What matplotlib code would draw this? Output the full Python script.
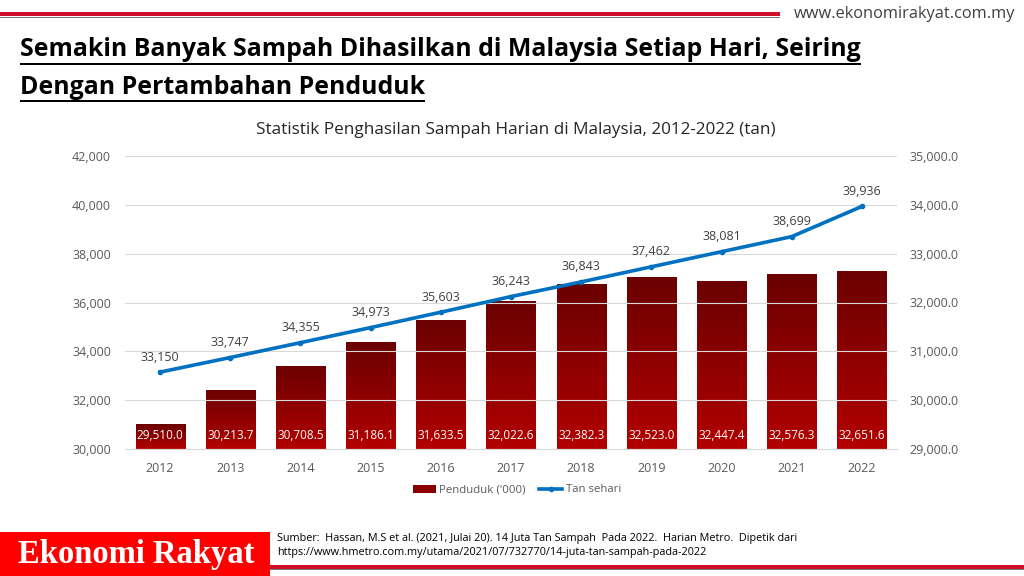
import matplotlib
matplotlib.use("Agg")
import matplotlib.pyplot as plt
import numpy as np
from matplotlib.colors import LinearSegmentedColormap
from matplotlib.patches import Rectangle, Patch
from matplotlib.lines import Line2D

years = ["2012", "2013", "2014", "2015", "2016", "2017", "2018", "2019", "2020", "2021", "2022"]
penduduk = [29510.0, 30213.7, 30708.5, 31186.1, 31633.5, 32022.6, 32382.3, 32523.0, 32447.4, 32576.3, 32651.6]
tan_sehari = [33150, 33747, 34355, 34973, 35603, 36243, 36843, 37462, 38081, 38699, 39936]
left_ticks = [30000, 32000, 34000, 36000, 38000, 40000, 42000]
right_ticks = [29000, 30000, 31000, 32000, 33000, 34000, 35000]

W, H = 1024, 576
fig = plt.figure(figsize=(W / 100, H / 100), dpi=100)
fig.patch.set_facecolor("white")

NARROW = ["Liberation Sans Narrow", "Open Sans", "DejaVu Sans"]
BODY = ["Open Sans", "DejaVu Sans"]
GRAY = "#595959"

def px(x, y):
    return x / W, 1 - y / H

# top red bar and url
fig.add_artist(Rectangle(px(0, 16), 780 / W, 4 / H, transform=fig.transFigure, color="#d0102a", lw=0))
fig.add_artist(Rectangle(px(0, 18), 780 / W, 1 / H, transform=fig.transFigure, color="#7a7a7a", lw=0))
fig.text(*px(1015, 14), "www.ekonomirakyat.com.my", ha="right", va="center", fontsize=11.8,
         family=NARROW, color="#404040")

# title
t1 = fig.text(*px(20, 50), "Semakin Banyak Sampah Dihasilkan di Malaysia Setiap Hari, Seiring",
              ha="left", va="center", fontsize=17.9, fontweight="bold", family=NARROW, color="black")
t2 = fig.text(*px(20, 87), "Dengan Pertambahan Penduduk",
              ha="left", va="center", fontsize=17.9, fontweight="bold", family=NARROW, color="black")

# axes
x0, x1, y0, y1 = 125, 897, 156, 449
ax = fig.add_axes([x0 / W, 1 - y1 / H, (x1 - x0) / W, (y1 - y0) / H])
ax2 = ax.twinx()

xs = np.arange(len(years))
cmap = LinearSegmentedColormap.from_list("g", ["#b30000", "#6a0000"])
grad = np.linspace(0, 1, 256).reshape(-1, 1)
bars = ax.bar(xs, penduduk, width=0.7, color="#a00000", edgecolor="none", zorder=2)
for b in bars:
    bx, by = b.get_x(), b.get_y()
    bw, bh = b.get_width(), b.get_height()
    im = ax.imshow(grad, cmap=cmap, aspect="auto", origin="lower",
                   extent=[bx, bx + bw, 29000, by + bh], zorder=2)
    im.set_clip_path(b)
ax.set_ylim(29000, 35000)
ax.set_xlim(-0.5, len(years) - 0.5)
ax.set_yticks(right_ticks)
ax.set_yticklabels([f"{v:,.1f}" for v in right_ticks])
ax.yaxis.tick_right()
ax.set_xticks(xs)
ax.set_xticklabels(years)
for v, x in zip(penduduk, xs):
    ax.annotate(f"{v:,.1f}", xy=(x, 29000), xytext=(0, 13), textcoords="offset pixels",
                ha="center", va="center", color="white", fontsize=8.5, family=BODY, zorder=5)

ax2.plot(xs, tan_sehari, color="#0070c0", lw=2.6, marker="o", ms=3, zorder=4)
ax2.set_ylim(30000, 42000)
ax2.set_yticks(left_ticks)
ax2.set_yticklabels([f"{v:,}" for v in left_ticks])
ax2.yaxis.tick_left()
ax2.grid(axis="y", color="#d9d9d9", lw=0.8)
for v, x in zip(tan_sehari, xs):
    ax2.annotate(f"{v:,}", xy=(x, v), xytext=(0, 15), textcoords="offset pixels",
                 ha="center", va="center", color="#404040", fontsize=9, family=BODY)

for a in (ax, ax2):
    for s in a.spines.values():
        s.set_visible(False)
    a.tick_params(length=0, labelsize=9, labelcolor=GRAY)
    for lab in a.get_xticklabels() + a.get_yticklabels():
        lab.set_family(BODY)
ax.spines["bottom"].set_visible(True)
ax.spines["bottom"].set_color("#d9d9d9")
ax.tick_params(axis="x", pad=9)
ax.tick_params(axis="y", pad=9)
ax2.tick_params(axis="y", pad=10)

ax.set_zorder(1)
ax2.set_zorder(2)
ax2.patch.set_visible(False)

fig.text(*px(516, 130), "Statistik Penghasilan Sampah Harian di Malaysia, 2012-2022 (tan)",
         ha="center", va="center", fontsize=12.3, family=BODY, color="#262626")

# legend
handles = [Patch(facecolor="#8a0000", edgecolor="none"),
           Line2D([], [], color="#0070c0", lw=2.6, marker="o", ms=3)]
leg = fig.legend(handles, ["Penduduk ('000)", "Tan sehari"], loc="center",
                 bbox_to_anchor=px(517, 490), ncol=2, frameon=False,
                 handlelength=2.0, handletextpad=0.3, columnspacing=1.2,
                 prop={"family": BODY, "size": 8.2})
for t in leg.get_texts():
    t.set_color(GRAY)

# bottom banner
fig.add_artist(Rectangle(px(0, 576), 270 / W, 44 / H, transform=fig.transFigure, color="#ff0000", lw=0))
fig.text(*px(136, 554), "Ekonomi Rakyat", ha="center", va="center", fontsize=23.5, fontweight="bold",
         family=["Liberation Serif", "DejaVu Serif"], color="white")
fig.add_artist(Rectangle(px(270, 569), 754 / W, 4 / H, transform=fig.transFigure, color="#d0102a", lw=0))
fig.add_artist(Rectangle(px(270, 570), 754 / W, 1 / H, transform=fig.transFigure, color="#7a7a7a", lw=0))
fig.text(*px(277, 539), "Sumber:  Hassan, M.S et al. (2021, Julai 20). 14 Juta Tan Sampah  Pada 2022.  Harian Metro.  Dipetik dari",
         ha="left", va="center", fontsize=7.8, family=NARROW, color="black")
fig.text(*px(277, 553), "https://www.hmetro.com.my/utama/2021/07/732770/14-juta-tan-sampah-pada-2022",
         ha="left", va="center", fontsize=7.8, family=NARROW, color="black")

# underline titles to their text width
fig.canvas.draw()
r = fig.canvas.get_renderer()
for t, yy in ((t1, 65), (t2, 102)):
    bb = t.get_window_extent(renderer=r)
    fig.add_artist(Rectangle((bb.x0 / W, 1 - yy / H), (bb.x1 - bb.x0) / W, 2 / H,
                             transform=fig.transFigure, color="black", lw=0))

fig.savefig("out.png", dpi=100)
